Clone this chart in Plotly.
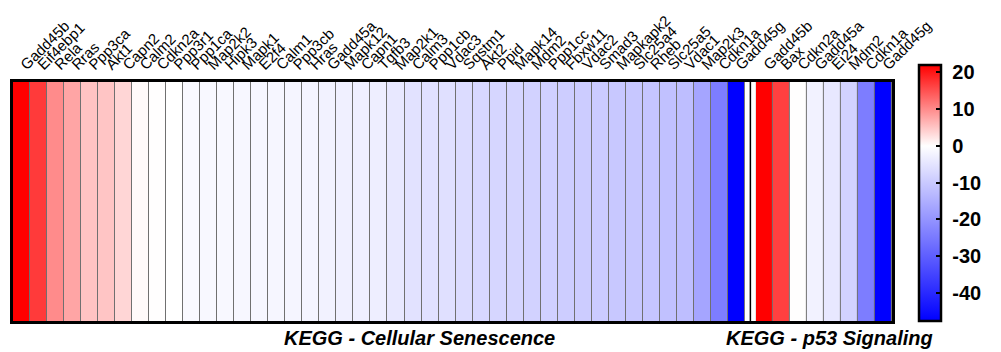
import plotly.graph_objects as go

# ---- data ----
sen_genes = ["Gadd45b", "Eif4ebp1", "Rela", "Rras", "Ppp3ca", "Akt1", "Capn2", "Calm2",
             "Cdkn2a", "Ppp3r1", "Ppp1ca", "Map2k2", "Hipk3", "Mapk1", "E2f4", "Calm1",
             "Ppp3cb", "Hras", "Gadd45a", "Mapk12", "Capn1", "Tgfb3", "Map2k1", "Calm3",
             "Ppp1cb", "Vdac3", "Sqstm1", "Akt2", "Ppid", "Mapk14", "Mdm2", "Ppp1cc",
             "Fbxw11", "Vdac2", "Smad3", "Mapkapk2", "Slc25a4", "Rheb", "Slc25a5", "Vdac1",
             "Map2k3", "Cdkn1a", "Gadd45g"]
sen_values = [22.0, 17.0, 10.0, 7.8, 5.2, 5.0, 3.5, 0.4,
              0.1, 0.0, -1.2, -1.3, -1.4, -1.5, -1.6, -1.7,
              -1.8, -2.0, -2.5, -2.8, -3.0, -3.2, -4.3, -5.4,
              -5.6, -5.8, -6.5, -7.3, -7.6, -7.8, -8.4, -8.8,
              -9.4, -9.5, -9.7, -10.3, -10.4, -10.8, -11.6, -12.2,
              -16.8, -24.3, -47.6]
p53_genes = ["Gadd45b", "Bax", "Cdkn2a", "Gadd45a", "Ei24", "Mdm2", "Cdkn1a", "Gadd45g"]
p53_values = [22.0, 16.5, 0.1, -2.5, -4.3, -8.4, -24.3, -47.6]
panel_titles = ["KEGG - Cellular Senescence", "KEGG - p53 Signaling"]
cbar_ticks = [20, 10, 0, -10, -20, -30, -40]
zmin, zmax = -47.6, 22.0
gap = 0.64  # gap between the two blocks, in cell units

FONT = "Arial, Liberation Sans, Helvetica, sans-serif"

zero = (0 - zmin) / (zmax - zmin)
colorscale = [[0, "rgb(0,0,255)"], [zero, "rgb(255,255,255)"], [1, "rgb(255,0,0)"]]

n1 = len(sen_genes)
x1 = list(range(n1))
x2 = [n1 - 0.5 + gap + 0.5 + i for i in range(len(p53_genes))]

fig = go.Figure()
common = dict(colorscale=colorscale, zmin=zmin, zmax=zmax, xgap=1, hoverongaps=False)
fig.add_trace(go.Heatmap(z=[sen_values], x=x1, y=[0], showscale=True,
                         colorbar=dict(
                             thickness=22, lenmode="pixels", len=256,
                             x=(922 - 13) / 882, xanchor="left", xpad=0,
                             y=0, yanchor="bottom", ypad=0,
                             outlinewidth=2.5, outlinecolor="black",
                             tickmode="array", tickvals=cbar_ticks,
                             ticktext=["\u00a0" + str(t) for t in cbar_ticks],
                             ticks="inside", ticklen=6,
                             tickwidth=2, tickcolor="black",
                             tickfont=dict(family=FONT, size=20, color="black", weight="bold"),
                         ),
                         **common))
fig.add_trace(go.Heatmap(z=[p53_values], x=x2, y=[0], showscale=False, **common))

# white gap between the blocks with a separator line
gx0 = n1 - 0.5
gx1 = n1 - 0.5 + gap
fig.add_shape(type="rect", xref="x", yref="paper", x0=gx0, x1=gx1, y0=0, y1=1,
              fillcolor="white", line=dict(width=0), layer="above")
fig.add_shape(type="line", xref="x", yref="paper", x0=(gx0 + gx1) / 2, x1=(gx0 + gx1) / 2,
              y0=0, y1=1, line=dict(color="black", width=1.5), layer="above")

fig.update_layout(
    width=1001, height=352,
    margin=dict(l=13, r=106, t=70, b=31),
    paper_bgcolor="white", plot_bgcolor="#707070",
    font=dict(family=FONT, color="black"),
    xaxis=dict(
        side="top", range=[-0.5, x2[-1] + 0.5],
        tickvals=x1 + x2, ticktext=sen_genes + p53_genes,
        tickangle=-45, ticks="", showgrid=False, zeroline=False,
        tickfont=dict(family=FONT, size=15, color="black"),
        showline=True, mirror=True, linewidth=3, linecolor="black",
    ),
    yaxis=dict(
        range=[-0.5, 0.5], showticklabels=False, ticks="", showgrid=False, zeroline=False,
        showline=True, mirror=True, linewidth=3, linecolor="black",
    ),
)

title_x = [(421 - 13) / 882, (832 - 13) / 882]
for t, px in zip(panel_titles, title_x):
    fig.add_annotation(text=t, xref="paper", yref="paper", x=px, y=0,
                       xanchor="center", yanchor="top", yshift=-4, showarrow=False,
                       font=dict(family=FONT, size=20, color="black", weight="bold",
                                 style="italic"))

fig.write_html("out.html")
